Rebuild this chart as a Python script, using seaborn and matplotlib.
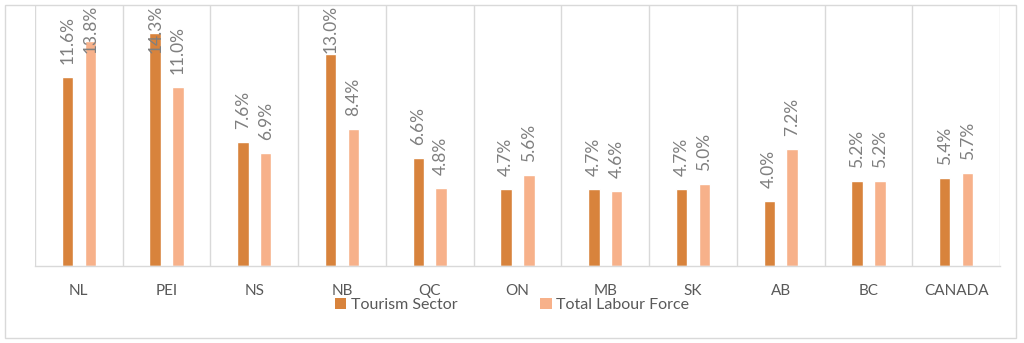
import matplotlib
matplotlib.use("Agg")
import matplotlib.pyplot as plt
import seaborn as sns
import pandas as pd
from matplotlib.patches import Patch, Rectangle

regions = ["NL", "PEI", "NS", "NB", "QC", "ON", "MB", "SK", "AB", "BC", "CANADA"]
tourism = [11.6, 14.3, 7.6, 13.0, 6.6, 4.7, 4.7, 4.7, 4.0, 5.2, 5.4]
labour = [13.8, 11.0, 6.9, 8.4, 4.8, 5.6, 4.6, 5.0, 7.2, 5.2, 5.7]
series = ["Tourism Sector", "Total Labour Force"]
colors = ["#D8833C", "#F7B18A"]

df = pd.DataFrame({
    "Region": regions * 2,
    "Series": [series[0]] * len(regions) + [series[1]] * len(regions),
    "Value": tourism + labour,
})

sns.set_theme(style="white")
plt.rcParams["font.family"] = ["Lato", "DejaVu Sans"]

fig = plt.figure(figsize=(10.24, 3.43), dpi=100)
ax = fig.add_axes([35/1024, 1-266/343, (1000-35)/1024, (266-5)/343])

sns.barplot(data=df, x="Region", y="Value", hue="Series", order=regions,
            hue_order=series, palette=colors, width=0.52, gap=0.5,
            legend=False, ax=ax, saturation=1)

ax.set_ylim(0, 16)
ax.set_xlim(-0.5, len(regions) - 0.5)
grid_c = "#D9D9D9"
for b in range(len(regions) + 1):
    ax.axvline(b - 0.5, color=grid_c, lw=1, zorder=0)

for s in ["top", "left", "right"]:
    ax.spines[s].set_visible(False)
ax.spines["bottom"].set_color(grid_c)
ax.spines["bottom"].set_linewidth(1)
ax.set_yticks([])
ax.set_xlabel("")
ax.set_ylabel("")
ax.tick_params(axis="x", length=0, pad=13, labelsize=11, labelcolor="#595959")

for cont in ax.containers:
    for bar in cont:
        h = bar.get_height()
        x = bar.get_x() + bar.get_width() / 2
        y = min(h + 0.8, 13.05)
        ax.text(x, y, f"{h:.1f}%", rotation=90, ha="center", va="bottom",
                fontsize=12.5, color="#7F7F7F")

handles = [Patch(facecolor=c, edgecolor="none") for c in colors]
fig.legend(handles, series, loc="center", bbox_to_anchor=(0.5, 1-305/343),
           ncol=2, frameon=False, handlelength=0.7, handleheight=0.7,
           handletextpad=0.3, columnspacing=5.2, fontsize=11.5,
           labelcolor="#595959", borderpad=0.1)

fig.patches.append(Rectangle((5/1024, 5/343), 1011/1024, 333/343,
                             transform=fig.transFigure, fill=False,
                             edgecolor=grid_c, lw=1))

fig.savefig("out.png", dpi=100)
